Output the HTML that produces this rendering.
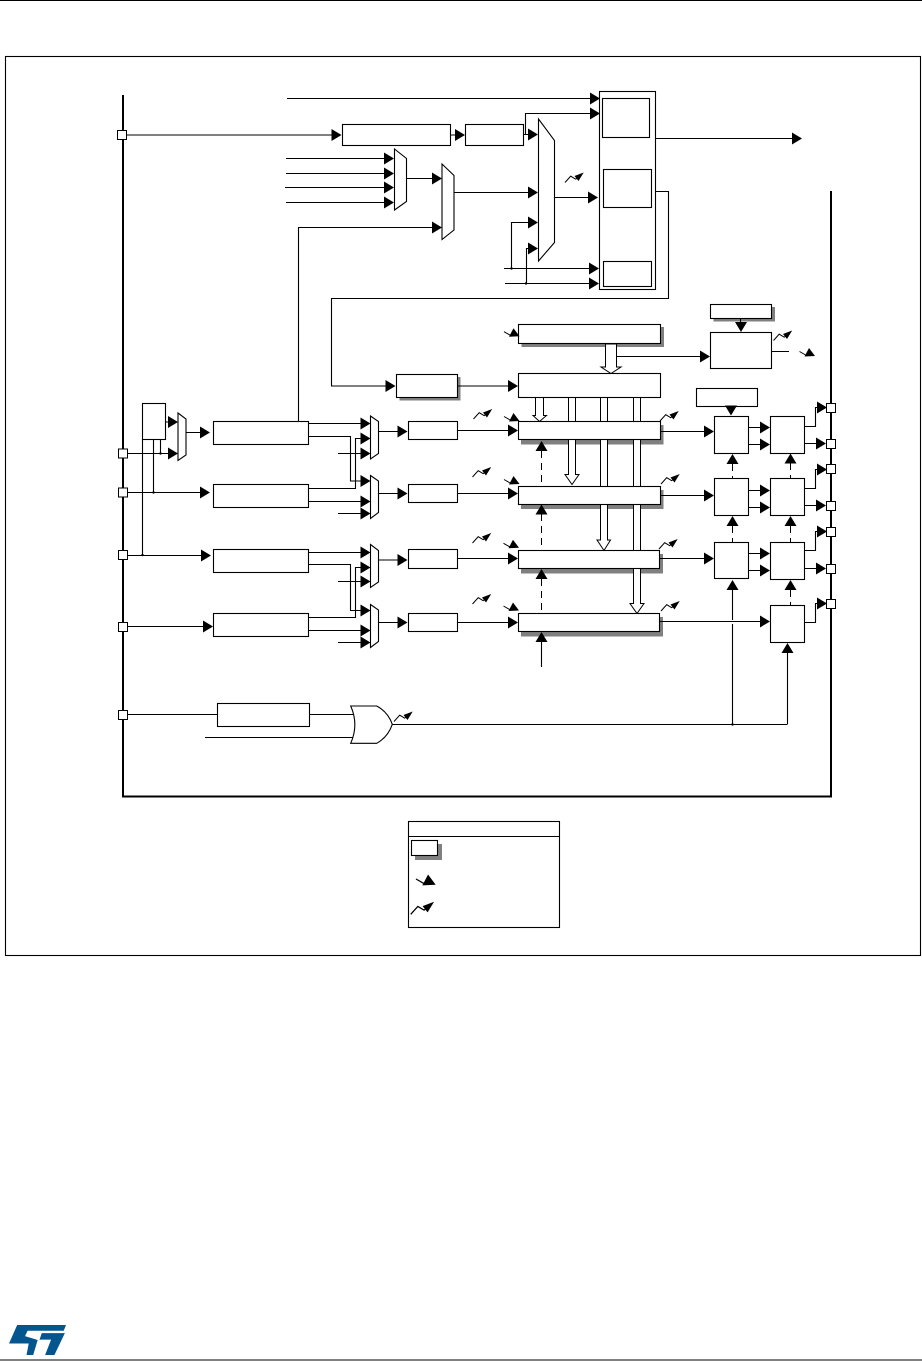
<!DOCTYPE html>
<html><head><meta charset="utf-8"><style>html,body{margin:0;padding:0;background:#fff}svg{display:block}</style></head>
<body>
<svg width="922" height="1361" viewBox="0 0 922 1361" xmlns="http://www.w3.org/2000/svg">
<defs>
<polygon id="r" points="-10,-6 0,0 -10,6" fill="#000"/>
<polygon id="u" points="-6,10 0,0 6,10" fill="#000"/>
<polygon id="d" points="-6,-10 0,0 6,-10" fill="#000"/>
<g id="z"><path d="M0 0L5.7-6.3L10.7-3.3L13-5" fill="none" stroke="#000" stroke-width="1"/><polygon points="18.7,-10 9.5,-6.5 13.5,-1.5" fill="#000"/></g>
<g id="e"><path d="M0 0L7 4" fill="none" stroke="#000" stroke-width="1"/><polygon points="9.5,-3.5 15.5,4.5 5,5" fill="#000"/></g>
<rect id="p" x="-4.5" y="-4.5" width="9" height="9" fill="#fff" stroke="#000"/>
</defs>
<rect width="922" height="1361" fill="#fff"/>
<path d="M0 .5H922M0 1360H922" stroke="#000" stroke-width="1" fill="none"/>
<rect x="5.5" y="56.5" width="915" height="899" fill="none" stroke="#000" stroke-width="1.1"/>

<!-- shadows -->
<g fill="#808080">
<rect x="521.5" y="327" width="142.5" height="20"/>
<rect x="399.5" y="377" width="61" height="23.5"/>
<rect x="713.5" y="307" width="61.5" height="14.5"/>
<rect x="521" y="425" width="142.5" height="19.5"/>
<rect x="521" y="490" width="142.5" height="19"/>
<rect x="521" y="554" width="142" height="19.5"/>
<rect x="521" y="617" width="142" height="19.5"/>
</g>

<!-- thick bus -->
<path d="M123 95V796.5H831V191" fill="none" stroke="#000" stroke-width="2"/>

<!-- thin connectors -->
<path fill="none" stroke="#000" stroke-width="1.1" d="
M287 98.5H590
M126 135H332
M450.5 135H456
M523.5 134.5H529M525.5 134.5V113.5H590
M554.5 197.5H589
M656 138.5H792
M656 191.5H668.5V298.5H331.5V386H386
M458 386H509
M286 158.5H385M286 173.5H385M285 187.5H385M286 202.5H385
M406.5 178.5H433
M454 192.5H529
M298.5 421.5V227.5H433
M529 222.5H511.5V268.5M504 268.5H590
M529 248.5H526.5V283.5M505 283.5H590
M617 356.5H700
M740.5 319V323
M771.5 351.5H789
M166 422H168M126 453.5H168
M160.5 439.5V453.5M153.5 439.5V492.5M142.5 439.5V555
M186 432.5H201
M127 492.5H201
M127 555.5H201
M127 626.5H204
M308.5 423.5H361
M308.5 436.5H350.5V481H361
M361 438.5H355.5V488.5H308.5
M338 453.5H361
M308.5 501.5H361
M338 513.5H361
M308.5 552.5H361
M308.5 564.5H350.5V610.5H361
M361 567.5H355.5V617.5H308.5
M338 581.5H361
M308.5 630.5H361
M338 642.5H361
M378.5 431.5H398M378.5 493.5H398M378 560H398M378.5 622.5H398
M458 430.5H509M458 493.5H509M458 558.5H509M458 622.5H509
M660.5 431.5H705M660.5 495.5H705M660 558.5H705
M660 621.5H760
M749 427.5H761M749 444.5H761M749 490.5H761M749 507.5H761M749 553.5H761M749 570.5H761
M805 426.5H815.5V407.5H818M805 443.5H816
M805 488.5H815.5V469.5H818M805 505.5H816
M805 550.5H815.5V531.5H818M805 568.5H816
M805 622.5H815.5V603.5H818
M541.5 642V667
M732.5 590V620M732.5 624V724
M787.5 652V724
M127 714.5H217.5M309.5 714.5H355
M205 737.5H355
M392 724.5H787.5
M126 626.5H127
"/>
<path fill="none" stroke="#000" stroke-width="1" stroke-dasharray="7 5" d="
M541.5 451V486M541.5 514V550M541.5 579V613
M732.5 464V478M732.5 526V542
M790.5 463V478M790.5 526V542M790.5 590V605"/>

<!-- hollow buses -->
<g fill="#fff" stroke="#000" stroke-width="1">
<polygon points="605.5,344 605.5,367 601,367 611,373.5 621,367 616.5,367 616.5,344"/>
<polygon points="535.5,397 535.5,415.5 533,415.5 539.5,421.5 546.5,415.5 543.5,415.5 543.5,397"/>
<polygon points="568.5,397 568.5,474.5 565,474.5 572,484.5 579,474.5 575.5,474.5 575.5,397"/>
<polygon points="600.5,397 600.5,540 597,540 604,550.5 610.5,540 607.5,540 607.5,397"/>
<polygon points="633.5,397 633.5,603.5 630,603.5 637,613.5 644,603.5 640.5,603.5 640.5,397"/>
</g>

<!-- boxes -->
<g fill="#fff" stroke="#000" stroke-width="1.1">
<rect x="599.5" y="91.5" width="56" height="198"/>
<rect x="602.5" y="98.5" width="47" height="39"/>
<rect x="603.5" y="169.5" width="48" height="38"/>
<rect x="603.5" y="261.5" width="48" height="25"/>
<rect x="342.5" y="124.5" width="108" height="21"/>
<rect x="465.5" y="124.5" width="58" height="21"/>
<polygon points="538.5,119 554.5,140.5 554.5,242.5 538.5,261"/>
<polygon points="394.5,149 406.5,158.5 406.5,201.5 394.5,210"/>
<polygon points="442,164 454,175.5 454,230 442,239.5"/>
<rect x="518.5" y="324.5" width="142" height="19"/>
<rect x="518.5" y="373.5" width="142" height="24"/>
<rect x="396.5" y="374.5" width="61" height="23"/>
<rect x="710.5" y="304.5" width="61" height="14"/>
<rect x="710.5" y="332.5" width="61" height="36"/>
<rect x="142.5" y="403.5" width="23" height="36"/>
<polygon points="178,413 186,419 186,455 178,460.5"/>
<rect x="213.5" y="421.5" width="95" height="23"/>
<rect x="213.5" y="484.5" width="95" height="23"/>
<rect x="213.5" y="549.5" width="95" height="23"/>
<rect x="213.5" y="613.5" width="95" height="23"/>
<polygon points="370.5,416 378.5,421.5 378.5,453.5 370.5,459"/>
<polygon points="370.5,475.5 378.5,481 378.5,512.5 370.5,518.5"/>
<polygon points="370.5,544.5 378.5,550.5 378.5,582 370.5,587.5"/>
<polygon points="370.5,604.5 378.5,610 378.5,641.5 370.5,647.5"/>
<rect x="408.5" y="421.5" width="49" height="18"/>
<rect x="408.5" y="484.5" width="49" height="18"/>
<rect x="408.5" y="549.5" width="49" height="19"/>
<rect x="408.5" y="613.5" width="49" height="18"/>
<rect x="518.5" y="421.5" width="142" height="18"/>
<rect x="518.5" y="486.5" width="142" height="18"/>
<rect x="518.5" y="550.5" width="141" height="18"/>
<rect x="518.5" y="613.5" width="141" height="18"/>
<rect x="696.5" y="388.5" width="61" height="18"/>
<rect x="714.5" y="416.5" width="34" height="37"/>
<rect x="714.5" y="478.5" width="34" height="37"/>
<rect x="714.5" y="542.5" width="34" height="36"/>
<rect x="770.5" y="416.5" width="34" height="37"/>
<rect x="770.5" y="478.5" width="34" height="37"/>
<rect x="770.5" y="542.5" width="34" height="37"/>
<rect x="770.5" y="605.5" width="34" height="37"/>
<rect x="217.5" y="703.5" width="92" height="23"/>
<path d="M350.7 706H376.7Q388 712 392.3 724.3Q388 737 376.7 743.3H350.7Q359 724.6 350.7 706Z"/>
<rect x="408.5" y="821.5" width="151" height="106"/>
<rect x="415" y="844" width="27" height="16" fill="#808080" stroke="none"/>
<rect x="411.5" y="840.5" width="26" height="15"/>
</g>
<path d="M408.5 836.5H559.5" stroke="#000" fill="none" stroke-width="1.1"/>

<!-- pins -->
<use href="#p" x="122" y="135"/><use href="#p" x="123" y="453.5"/><use href="#p" x="123" y="492.5"/>
<use href="#p" x="123" y="555"/><use href="#p" x="123" y="627"/><use href="#p" x="123" y="715"/>
<use href="#p" x="831" y="408"/><use href="#p" x="831" y="444"/><use href="#p" x="831" y="469"/>
<use href="#p" x="831" y="506"/><use href="#p" x="831" y="532"/><use href="#p" x="831" y="569"/><use href="#p" x="831" y="604"/>

<!-- right arrows -->
<use href="#r" x="600" y="98.5"/><use href="#r" x="600" y="113.5"/>
<use href="#r" x="341.5" y="135"/><use href="#r" x="465" y="135"/><use href="#r" x="538" y="134.5"/>
<use href="#r" x="598" y="197.5"/><use href="#r" x="802" y="138.5"/>
<use href="#r" x="394" y="158.5"/><use href="#r" x="394" y="173.5"/><use href="#r" x="394" y="187.5"/><use href="#r" x="394" y="202.5"/>
<use href="#r" x="442" y="178.5"/><use href="#r" x="442" y="227.5"/>
<use href="#r" x="538" y="192.5"/><use href="#r" x="538" y="222.5"/><use href="#r" x="538" y="248.5"/>
<use href="#r" x="599" y="268.5"/><use href="#r" x="599" y="283.5"/>
<use href="#r" x="395.5" y="386"/><use href="#r" x="518" y="386"/><use href="#r" x="710" y="356.5"/>
<use href="#r" x="178" y="422"/><use href="#r" x="178" y="453.5"/>
<use href="#r" x="210" y="432.5"/><use href="#r" x="210" y="492.5"/><use href="#r" x="211" y="555.5"/><use href="#r" x="213" y="626.5"/>
<use href="#r" x="370.5" y="423.5"/><use href="#r" x="370.5" y="438.5"/><use href="#r" x="370.5" y="453.5"/>
<use href="#r" x="370.5" y="481"/><use href="#r" x="370.5" y="501.5"/><use href="#r" x="370.5" y="513.5"/>
<use href="#r" x="370.5" y="552.5"/><use href="#r" x="370.5" y="567.5"/><use href="#r" x="370.5" y="581.5"/>
<use href="#r" x="370.5" y="610.5"/><use href="#r" x="370.5" y="630.5"/><use href="#r" x="370.5" y="642.5"/>
<use href="#r" x="407.5" y="431.5"/><use href="#r" x="407.5" y="493.5"/><use href="#r" x="407.5" y="560"/><use href="#r" x="407.5" y="622.5"/>
<use href="#r" x="518" y="430.5"/><use href="#r" x="518" y="493.5"/><use href="#r" x="518" y="558.5"/><use href="#r" x="518" y="622.5"/>
<use href="#r" x="714" y="431.5"/><use href="#r" x="714" y="495.5"/><use href="#r" x="714" y="558.5"/><use href="#r" x="770" y="621.5"/>
<use href="#r" x="770" y="427.5"/><use href="#r" x="770" y="444.5"/><use href="#r" x="770" y="490.5"/><use href="#r" x="770" y="507.5"/><use href="#r" x="770" y="553.5"/><use href="#r" x="770" y="570.5"/>
<use href="#r" x="827" y="407.5"/><use href="#r" x="826" y="443.5"/><use href="#r" x="827" y="469.5"/><use href="#r" x="826" y="505.5"/>
<use href="#r" x="827" y="531.5"/><use href="#r" x="826" y="568.5"/><use href="#r" x="827" y="603.5"/>

<!-- vertical arrows -->
<use href="#d" x="741" y="332"/><use href="#d" x="731" y="415.5"/>
<use href="#u" x="541.5" y="441"/><use href="#u" x="541.5" y="504.5"/><use href="#u" x="541.5" y="569"/><use href="#u" x="541.5" y="632"/>
<use href="#u" x="732.5" y="454"/><use href="#u" x="732.5" y="516"/><use href="#u" x="732.5" y="580"/>
<use href="#u" x="790.5" y="453.5"/><use href="#u" x="790.5" y="516"/><use href="#u" x="790.5" y="580"/><use href="#u" x="787.5" y="643"/>

<!-- junction dots -->
<g fill="#000">
<circle cx="511.5" cy="268.5" r="1.2"/><circle cx="526" cy="283.5" r="1.2"/>
<circle cx="160.5" cy="453.5" r="1.2"/><circle cx="153.5" cy="492.5" r="1.2"/><circle cx="142.5" cy="555" r="1.2"/>
<circle cx="732.5" cy="724.5" r="1.2"/>
</g>

<!-- interrupt icons -->
<use href="#z" x="565" y="182.5"/><use href="#z" x="773.5" y="340.5"/>
<use href="#z" x="473.5" y="419"/><use href="#z" x="472.5" y="477"/><use href="#z" x="472.5" y="543"/><use href="#z" x="472.5" y="604"/>
<use href="#z" x="660" y="421"/><use href="#z" x="661" y="484"/><use href="#z" x="659" y="549"/><use href="#z" x="661" y="611"/>
<use href="#z" x="394" y="721.5"/>
<g transform="translate(410.7 914.3) scale(1.25)"><use href="#z"/></g>
<use href="#e" x="504" y="331.7"/>
<use href="#e" x="799.5" y="351.5"/>
<use href="#e" x="504" y="416.5"/>
<use href="#e" x="504" y="479.5"/>
<use href="#e" x="503.5" y="543.3"/>
<use href="#e" x="503.5" y="606"/>
<g transform="translate(416 879) scale(1.27)"><use href="#e"/></g>

<!-- logo -->
<g transform="translate(3.4 1314.6) scale(.3725 .385)" fill="#03558f">
<polygon points="37,27 168,27 162,42 65,42 58,56 92,66 80,105 62,105 68,75 15,75"/>
<polygon points="103,48 165,48 137,105 112,105 128,65 97,65"/>
</g>
</svg>
</body></html>
